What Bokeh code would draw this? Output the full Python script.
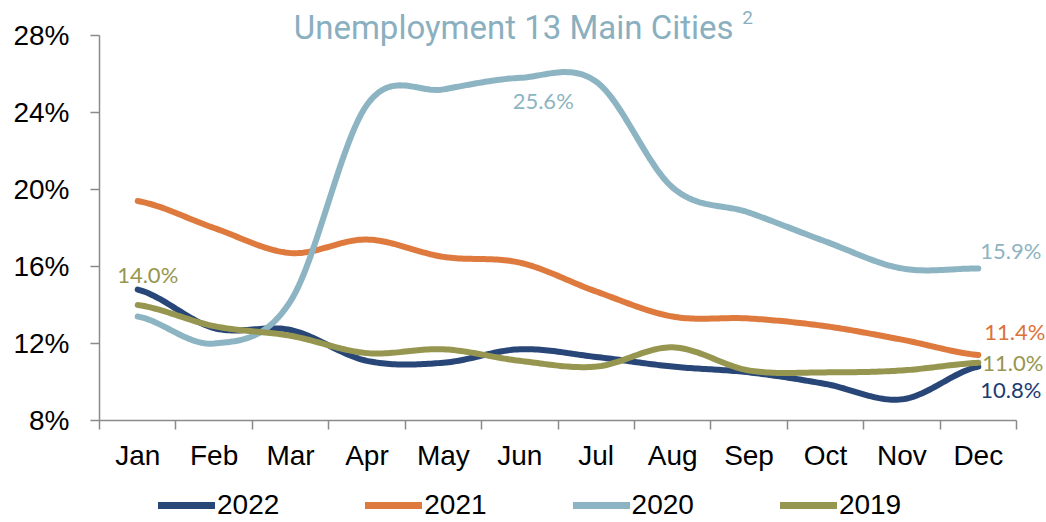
from bokeh.plotting import figure
from bokeh.layouts import column
from bokeh.models import FixedTicker, Label, Legend, LegendItem, Range1d
from bokeh.embed import file_html
from bokeh.resources import INLINE

# ---- data ----
months = ["Jan", "Feb", "Mar", "Apr", "May", "Jun", "Jul", "Aug", "Sep", "Oct", "Nov", "Dec"]
y_ticks = [8, 12, 16, 20, 24, 28]
y_tick_labels = ["8%", "12%", "16%", "20%", "24%", "28%"]

s2022 = [14.8, 12.8, 12.7, 11.1, 11.0, 11.7, 11.3, 10.8, 10.5, 9.9, 9.1, 10.8]
s2021 = [19.4, 18.0, 16.7, 17.4, 16.5, 16.2, 14.7, 13.4, 13.3, 12.9, 12.2, 11.4]
s2020 = [13.4, 12.0, 14.2, 24.4, 25.2, 25.8, 25.6, 20.1, 18.8, 17.3, 15.9, 15.9]
s2019 = [14.0, 12.9, 12.4, 11.5, 11.7, 11.1, 10.8, 11.8, 10.6, 10.5, 10.6, 11.0]

series_names = ["2022", "2021", "2020", "2019"]
series_values = [s2022, s2021, s2020, s2019]
series_colors = ["#284677", "#DF7A3F", "#8DB4C2", "#969650"]

TITLE = "Unemployment 13 Main Cities"


def smooth(ys, n=30):
    """Catmull-Rom style smoothing through the data points (like a smoothed line)."""
    N = len(ys)
    m = []
    for i in range(N):
        if i == 0:
            m.append((ys[1] - ys[0]) / 2.0)
        elif i == N - 1:
            m.append((ys[-1] - ys[-2]) / 2.0)
        else:
            m.append((ys[i + 1] - ys[i - 1]) / 2.0)
    xo, yo = [], []
    for i in range(N - 1):
        for k in range(n):
            t = k / n
            h00 = 2 * t**3 - 3 * t**2 + 1
            h10 = t**3 - 2 * t**2 + t
            h01 = -2 * t**3 + 3 * t**2
            h11 = t**3 - t**2
            xo.append(i + 0.5 + t)
            yo.append(h00 * ys[i] + h10 * m[i] + h01 * ys[i + 1] + h11 * m[i + 1])
    xo.append(N - 0.5)
    yo.append(ys[-1])
    return xo, yo


W = 1046
H_MAIN, H_LEG = 478, 44
LEFT, TOP_28, RIGHT_12, BOTTOM_8 = 99, 35, 1016, 420
x_per_px = 12.0 / (RIGHT_12 - LEFT)
y_per_px = 20.0 / (BOTTOM_8 - TOP_28)

p = figure(width=W, height=H_MAIN, output_backend="svg", toolbar_location=None,
           x_range=Range1d(0, 12 + (W - RIGHT_12) * x_per_px),
           y_range=Range1d(8, 28 + TOP_28 * y_per_px),
           min_border_left=LEFT, min_border_right=0, min_border_top=0,
           min_border_bottom=H_MAIN - BOTTOM_8)
p.outline_line_color = None
p.grid.visible = False
p.background_fill_color = "white"
p.border_fill_color = "white"

FONT = "Liberation Sans"
AXIS_COLOR = "#8a8a8a"

# x axis: labels at category centres, tick marks at category boundaries
p.xaxis.ticker = FixedTicker(ticks=[i + 0.5 for i in range(len(months))],
                             minor_ticks=list(range(len(months) + 1)))
p.xaxis.major_label_overrides = {i + 0.5: m for i, m in enumerate(months)}
p.xaxis.bounds = (0, len(months))
p.xaxis.major_tick_out = 0
p.xaxis.major_tick_in = 0
p.xaxis.minor_tick_out = 9
p.xaxis.minor_tick_in = 0
p.xaxis.major_label_standoff = 10

# y axis
p.yaxis.ticker = FixedTicker(ticks=y_ticks, minor_ticks=[])
p.yaxis.major_label_overrides = {t: l for t, l in zip(y_ticks, y_tick_labels)}
p.yaxis.bounds = (y_ticks[0], y_ticks[-1])
p.yaxis.major_tick_out = 9
p.yaxis.major_tick_in = 0
p.yaxis.minor_tick_out = 0
p.yaxis.minor_tick_in = 0
p.yaxis.major_label_standoff = 21

for ax in (p.xaxis, p.yaxis):
    ax.axis_line_color = AXIS_COLOR
    ax.axis_line_width = 1.5
    ax.major_tick_line_color = AXIS_COLOR
    ax.major_tick_line_width = 1.5
    ax.minor_tick_line_color = AXIS_COLOR
    ax.minor_tick_line_width = 1.5
    ax.major_label_text_font = FONT
    ax.major_label_text_font_size = "28px"
    ax.major_label_text_color = "#000000"

for name, vals, col in zip(series_names, series_values, series_colors):
    xs, ys = smooth(vals)
    p.line(xs, ys, line_color=col, line_width=6, line_cap="round", line_join="round")

# title
TITLE_COLOR = "#8AAFBF"
p.add_layout(Label(x=5.42, y=27.85, y_offset=11, text=TITLE, text_align="center",
                   text_baseline="alphabetic", text_font="Roboto",
                   text_font_size="33px", text_color=TITLE_COLOR))
p.add_layout(Label(x=8.48, y=28.42, y_offset=10, text="2", text_align="center",
                   text_baseline="alphabetic", text_font="Roboto", text_font_size="19px",
                   text_color=TITLE_COLOR))

# data labels
LFONT = "Lato"
LSIZE = "22px"
jan, jul, dec = 0, 6, 11
labels = [
    (jan + 0.5, s2019[jan], "14.0%", "center", 10, 31, "#969650"),
    (jul + 0.5, s2020[jul], "25.6%", "center", -53, -19, "#8DB4C2"),
    (dec + 0.5, s2020[dec], "15.9%", "left", 2, 18, "#8DB4C2"),
    (dec + 0.5, s2021[dec], "11.4%", "left", 6, 24, "#DA733A"),
    (dec + 0.5, s2019[dec], "11.0%", "left", 4, 0, "#969650"),
    (dec + 0.5, s2022[dec], "10.8%", "left", 2, -23, "#1C3B73"),
]
for x, y, t, al, dx, dy, c in labels:
    p.add_layout(Label(x=x, y=y, text=t, text_align=al, text_baseline="middle",
                       x_offset=dx, y_offset=dy, text_font=LFONT, text_font_size=LSIZE,
                       text_color=c))

# ---- legend strip (separate small figure holding only the legend) ----
# the series are drawn here too but fall outside this strip's ranges, so only
# their legend swatches are visible
pl = figure(width=W, height=H_LEG, output_backend="svg", toolbar_location=None,
            x_range=Range1d(-2, -1), y_range=Range1d(0, 1),
            min_border_left=0, min_border_right=0, min_border_top=0, min_border_bottom=0)
pl.axis.visible = False
pl.grid.visible = False
pl.outline_line_color = None
leg_renderers = []
for name, vals, col in zip(series_names, series_values, series_colors):
    leg_renderers.append(pl.line(list(range(len(vals))), vals, line_color=col,
                                 line_width=7, line_cap="round"))

legend = Legend(items=[LegendItem(label=n, renderers=[r]) for n, r in zip(series_names, leg_renderers)],
                orientation="horizontal", location=(59, 1))
legend.padding = 0
legend.margin = 0
legend.spacing = 86
legend.glyph_width = 57
legend.glyph_height = 20
legend.label_standoff = 2
legend.label_text_font = FONT
legend.label_text_font_size = "28px"
legend.label_text_color = "#000000"
legend.border_line_color = None
legend.background_fill_alpha = 0
pl.add_layout(legend)

layout = column(p, pl, spacing=0)
open("out.html", "w").write(file_html(layout, INLINE))
